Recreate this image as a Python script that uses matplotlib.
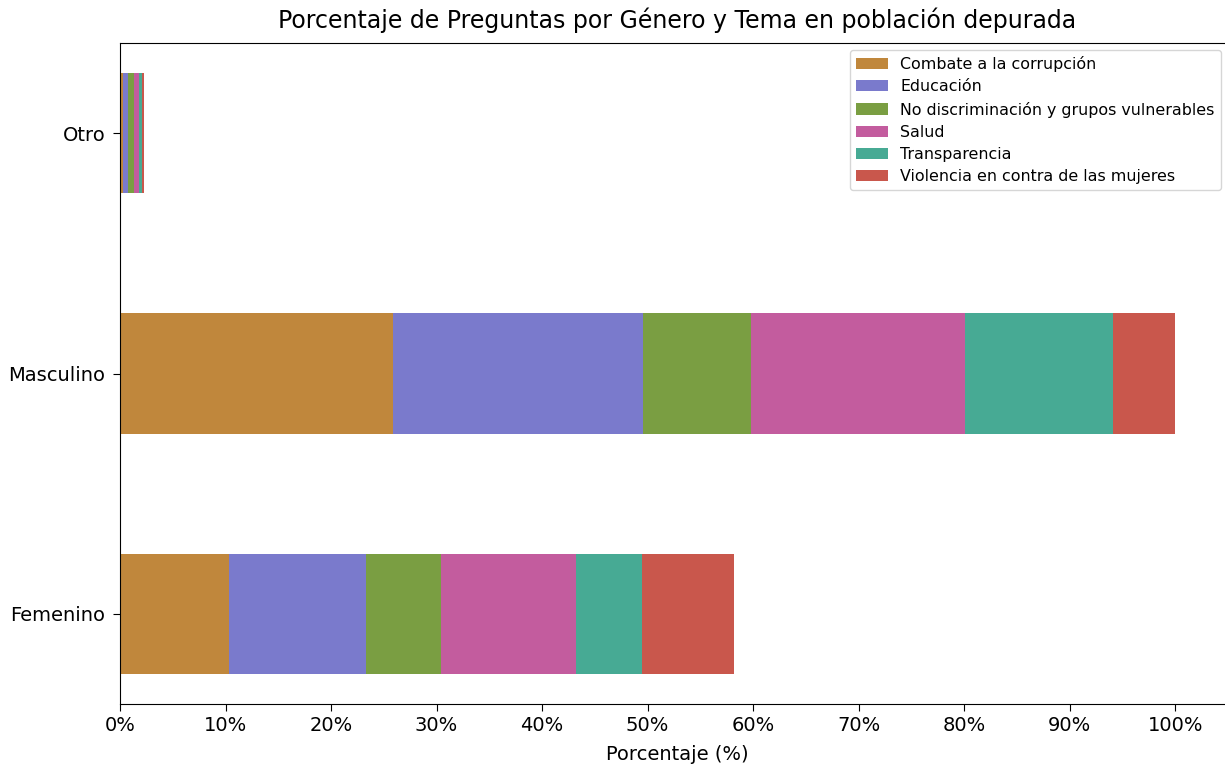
import matplotlib
matplotlib.use("Agg")
import matplotlib.pyplot as plt
from matplotlib.ticker import PercentFormatter
import numpy as np

generos = ["Femenino", "Masculino", "Otro"]
temas = ["Combate a la corrupción", "Educación", "No discriminación y grupos vulnerables",
         "Salud", "Transparencia", "Violencia en contra de las mujeres"]
combate = [10.36, 25.9, 0.30]
educacion = [12.94, 23.7, 0.43]
no_discriminacion = [7.15, 10.2, 0.62]
salud = [12.75, 20.3, 0.45]
transparencia = [6.25, 14.0, 0.26]
violencia = [8.75, 5.9, 0.22]
series = [combate, educacion, no_discriminacion, salud, transparencia, violencia]
colores = ["#c0873c", "#7a7acc", "#7a9e42", "#c35c9e", "#47aa94", "#c9574c"]

fig = plt.figure(figsize=(12.25, 7.66), dpi=100)
ax = fig.add_axes([120/1225, 62/766, 1115/1225, 661/766])

y = np.arange(len(generos))
left = np.zeros(len(generos))
for tema, vals, c in zip(temas, series, colores):
    vals = np.array(vals)
    ax.barh(y, vals, height=0.5, left=left, color=c, label=tema, linewidth=0)
    left += vals

ax.set_xlim(0, 105.67)
ax.set_yticks(y)
ax.set_yticklabels(generos, fontsize=14)
ax.set_xticks(np.arange(0, 101, 10))
ax.xaxis.set_major_formatter(PercentFormatter(decimals=0))
ax.tick_params(axis='x', labelsize=14)
ax.tick_params(length=5)
ax.tick_params(axis='y', pad=5.5)
ax.set_xlabel("Porcentaje (%)", fontsize=14, labelpad=7)
ax.set_title("Porcentaje de Preguntas por Género y Tema en población depurada", fontsize=17, pad=11)
ax.legend(loc="upper right", fontsize=11.4, labelspacing=0.45,
          bbox_to_anchor=(1221/1225, 1 - 50/766), bbox_transform=fig.transFigure,
          borderaxespad=0)

fig.savefig("out.png", dpi=100)
